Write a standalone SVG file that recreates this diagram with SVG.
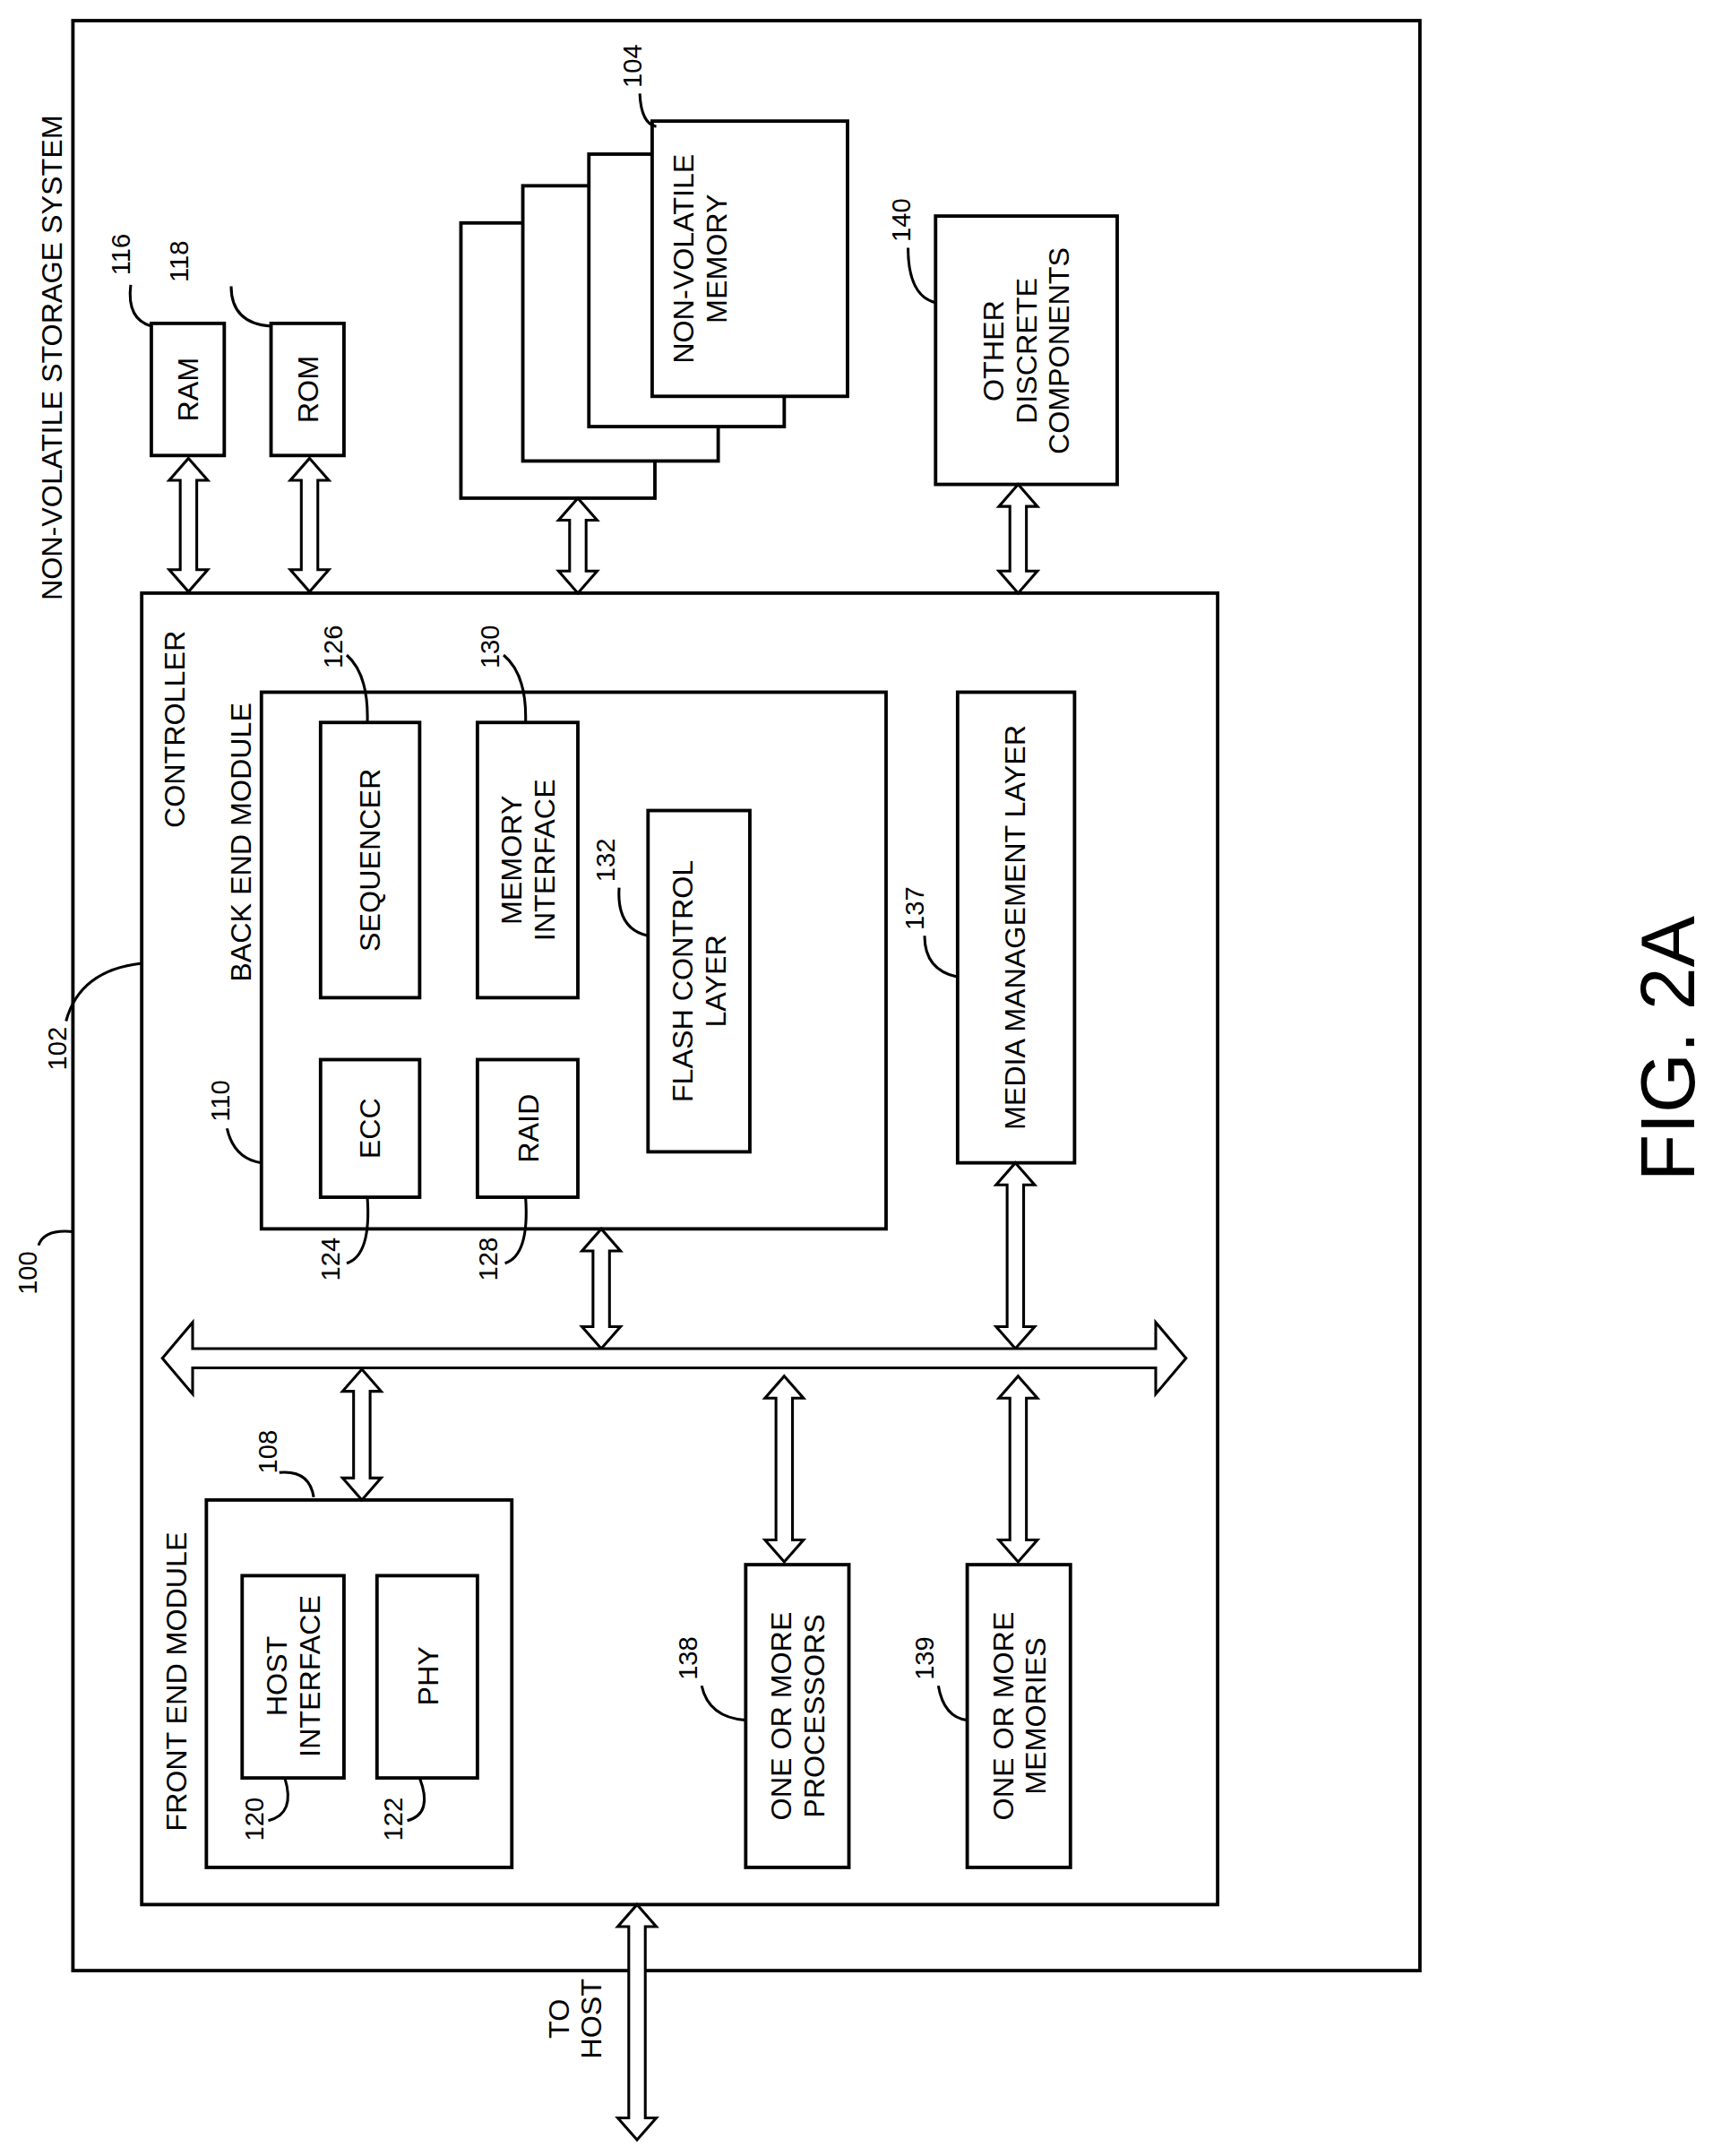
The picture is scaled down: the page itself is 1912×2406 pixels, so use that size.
<svg xmlns="http://www.w3.org/2000/svg" width="1912" height="2406" viewBox="0 0 1912 2406">
<style>
rect{fill:#fff;stroke:#000;stroke-width:2.5}
.a{fill:#fff;stroke:#000;stroke-width:2;stroke-linejoin:miter}
.l{fill:none;stroke:#000;stroke-width:2}
text{font-family:"Liberation Sans",Arial,sans-serif;font-size:21px;text-anchor:middle;dominant-baseline:central;fill:#000}
.n{font-size:19px}
</style>
<rect x="0" y="0" width="1912" height="2406" style="fill:#fff;stroke:none"/>
<g transform="scale(1.5357)">
<g id="system"><rect x="53" y="15" width="979" height="1417"/>
<text transform="translate(38,260) rotate(-90)">NON-VOLATILE STORAGE SYSTEM</text>
<text class="n" transform="translate(20,925) rotate(-90)">100</text><path class="l" d="M28,905 Q32,893 53,895"/></g>
<g id="controller"><rect x="103" y="431" width="782" height="953"/>
<text transform="translate(127,530) rotate(-90)">CONTROLLER</text>
<text class="n" transform="translate(42,762) rotate(-90)">102</text><path class="l" d="M48,742 Q58,705 103,700"/></g>
<g id="ram"><rect x="110" y="235" width="53" height="96"/><text transform="translate(137,283) rotate(-90)">RAM</text>
<text class="n" transform="translate(88,185) rotate(-90)">116</text><path class="l" d="M95,207 Q92,232 110,237"/></g>
<g id="rom"><rect x="197" y="235" width="53" height="96"/><text transform="translate(224,283) rotate(-90)">ROM</text>
<text class="n" transform="translate(130,190) rotate(-90)">118</text><path class="l" d="M168,208 Q168,235 197,237"/></g>
<g id="nvm"><rect x="335" y="162" width="141" height="200"/><rect x="380" y="135" width="142" height="200"/><rect x="428" y="112" width="142" height="198"/><rect x="474" y="88" width="142" height="200"/>
<text transform="translate(509,188) rotate(-90)"><tspan x="0" dy="-12">NON-VOLATILE</tspan><tspan x="0" dy="24">MEMORY</tspan></text>
<text class="n" transform="translate(460,48) rotate(-90)">104</text><path class="l" d="M465,68 Q466,90 477,92"/></g>
<g id="other"><rect x="680" y="157" width="132" height="195"/>
<text transform="translate(746,255) rotate(-90)"><tspan x="0" dy="-24">OTHER</tspan><tspan x="0" dy="24">DISCRETE</tspan><tspan x="0" dy="24">COMPONENTS</tspan></text>
<text class="n" transform="translate(655,160) rotate(-90)">140</text><path class="l" d="M660,180 Q660,215 680,220"/></g>
<g id="backend"><rect x="190" y="503" width="454" height="390"/>
<text transform="translate(175,612) rotate(-90)">BACK END MODULE</text>
<text class="n" transform="translate(160,800) rotate(-90)">110</text><path class="l" d="M165,820 Q170,842 190,845"/></g>
<g id="sequencer"><rect x="233" y="525" width="72" height="200"/><text transform="translate(269,625) rotate(-90)">SEQUENCER</text>
<text class="n" transform="translate(242,470) rotate(-90)">126</text><path class="l" d="M252,476 Q268,490 267,525"/></g>
<g id="memif"><rect x="347" y="525" width="73" height="200"/><text transform="translate(384,625) rotate(-90)"><tspan x="0" dy="-12">MEMORY</tspan><tspan x="0" dy="24">INTERFACE</tspan></text>
<text class="n" transform="translate(356,470) rotate(-90)">130</text><path class="l" d="M366,476 Q383,490 382,525"/></g>
<g id="flash"><rect x="471" y="589" width="74" height="248"/><text transform="translate(508,713) rotate(-90)"><tspan x="0" dy="-12">FLASH CONTROL</tspan><tspan x="0" dy="24">LAYER</tspan></text>
<text class="n" transform="translate(440,625) rotate(-90)">132</text><path class="l" d="M450,645 Q448,675 471,680"/></g>
<g id="ecc"><rect x="233" y="770" width="72" height="100"/><text transform="translate(269,820) rotate(-90)">ECC</text>
<text class="n" transform="translate(240,915) rotate(-90)">124</text><path class="l" d="M267,870 Q270,912 252,918"/></g>
<g id="raid"><rect x="347" y="770" width="73" height="100"/><text transform="translate(384,820) rotate(-90)">RAID</text>
<text class="n" transform="translate(355,915) rotate(-90)">128</text><path class="l" d="M382,870 Q385,912 367,918"/></g>
<g id="mml"><rect x="696" y="503" width="85" height="342"/><text transform="translate(738,674) rotate(-90)">MEDIA MANAGEMENT LAYER</text>
<text class="n" transform="translate(665,660) rotate(-90)">137</text><path class="l" d="M672,680 Q672,705 696,710"/></g>
<g id="frontend"><rect x="150" y="1090" width="222" height="267"/>
<text transform="translate(128,1222) rotate(-90)">FRONT END MODULE</text>
<text class="n" transform="translate(195,1055) rotate(-90)">108</text><path class="l" d="M203,1070 Q225,1068 228,1088"/></g>
<g id="hostif"><rect x="176" y="1145" width="74" height="147"/><text transform="translate(213,1218) rotate(-90)"><tspan x="0" dy="-12">HOST</tspan><tspan x="0" dy="24">INTERFACE</tspan></text>
<text class="n" transform="translate(185,1322) rotate(-90)">120</text><path class="l" d="M207,1292 Q215,1318 195,1323"/></g>
<g id="phy"><rect x="274" y="1145" width="73" height="147"/><text transform="translate(311,1218) rotate(-90)">PHY</text>
<text class="n" transform="translate(286,1322) rotate(-90)">122</text><path class="l" d="M305,1292 Q315,1318 296,1323"/></g>
<g id="processors"><rect x="542" y="1137" width="75" height="220"/><text transform="translate(580,1247) rotate(-90)"><tspan x="0" dy="-12">ONE OR MORE</tspan><tspan x="0" dy="24">PROCESSORS</tspan></text>
<text class="n" transform="translate(500,1205) rotate(-90)">138</text><path class="l" d="M510,1225 Q515,1248 542,1250"/></g>
<g id="memories"><rect x="703" y="1137" width="75" height="220"/><text transform="translate(741,1247) rotate(-90)"><tspan x="0" dy="-12">ONE OR MORE</tspan><tspan x="0" dy="24">MEMORIES</tspan></text>
<text class="n" transform="translate(672,1205) rotate(-90)">139</text><path class="l" d="M682,1225 Q686,1248 703,1250"/></g>
<g id="tohost"><text transform="translate(418,1467) rotate(-90)"><tspan x="0" dy="-12">TO</tspan><tspan x="0" dy="24">HOST</tspan></text></g>
<g id="connectors">
<path class="a" d="M137,333 L151,349 L143,349 L143,414 L151,414 L137,430 L123,414 L131,414 L131,349 L123,349Z"/>
<path class="a" d="M225,333 L239,349 L231,349 L231,414 L239,414 L225,430 L211,414 L219,414 L219,349 L211,349Z"/>
<path class="a" d="M420,362 L434,378 L426,378 L426,415 L434,415 L420,431 L406,415 L414,415 L414,378 L406,378Z"/>
<path class="a" d="M740,352 L754,368 L746,368 L746,415 L754,415 L740,431 L726,415 L734,415 L734,368 L726,368Z"/>
<path class="a" d="M437,893 L451,909 L443,909 L443,964 L451,964 L437,980 L423,964 L431,964 L431,909 L423,909Z"/>
<path class="a" d="M738,845 L752,861 L744,861 L744,964 L752,964 L738,980 L724,964 L732,964 L732,861 L724,861Z"/>
<path class="a" d="M118,987 L140,961 L140,980 L840,980 L840,961 L862,987 L840,1013 L840,994 L140,994 L140,1013Z"/>
<path class="a" d="M263,995 L277,1011 L269,1011 L269,1074 L277,1074 L263,1090 L249,1074 L257,1074 L257,1011 L249,1011Z"/>
<path class="a" d="M570,1000 L584,1016 L576,1016 L576,1119 L584,1119 L570,1135 L556,1119 L564,1119 L564,1016 L556,1016Z"/>
<path class="a" d="M740,1000 L754,1016 L746,1016 L746,1119 L754,1119 L740,1135 L726,1119 L734,1119 L734,1016 L726,1016Z"/>
<path class="a" d="M463,1384 L477,1400 L469,1400 L469,1539 L477,1539 L463,1555 L449,1539 L457,1539 L457,1400 L449,1400Z"/>
</g>
<text transform="translate(1212,762) rotate(-90)" style="font-size:56px">FIG. 2A</text>
</g>
</svg>
